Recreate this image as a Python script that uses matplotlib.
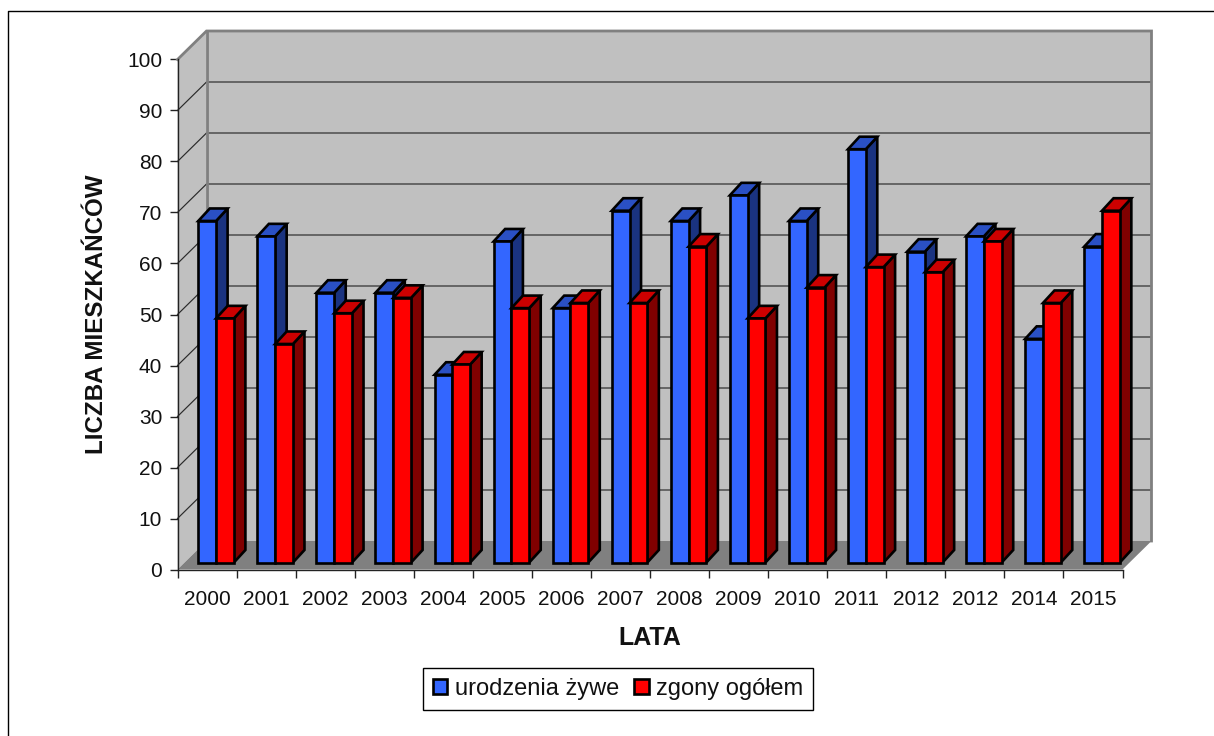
import matplotlib
matplotlib.use("Agg")
import matplotlib.pyplot as plt
from matplotlib.patches import Polygon, Patch
from matplotlib.lines import Line2D

years = ["2000", "2001", "2002", "2003", "2004", "2005", "2006", "2007",
         "2008", "2009", "2010", "2011", "2012", "2012", "2014", "2015"]
births = [68, 65, 54, 54, 38, 64, 51, 70, 68, 73, 68, 82, 62, 65, 45, 63]
deaths = [49, 44, 50, 53, 40, 51, 52, 52, 63, 49, 55, 59, 58, 64, 52, 70]
series_names = ["urodzenia żywe", "zgony ogółem"]
y_ticks = list(range(0, 101, 10))

plt.rcParams['font.family'] = ['Liberation Sans', 'DejaVu Sans']
W, H = 1214, 736
fig = plt.figure(figsize=(W / 100, H / 100), dpi=100, facecolor='white')

L, R, T, B = 177.5, 1122.5, 59.5, 569.5
ax = fig.add_axes([L / W, 1 - B / H, (R - L) / W, (B - T) / H])
ax.set_xlim(0, len(years))
ax.set_ylim(0, 100)
ax.patch.set_visible(False)

ux = (R - L) / len(years)   # px per category
uy = (B - T) / 100          # px per value unit
DX, DY = 29 / ux, 28.5 / uy           # wall depth
bx0, bw = 20.8 / ux, 17.8 / ux        # first bar offset, bar width
bdx, bdy = 11.5 / ux, 12.5 / uy       # bar depth
base = 7 / uy
top_k = 1.005

GREY = '#808080'
WALL = '#c0c0c0'
n = len(years)

def poly(pts, fc, ec, lw, z, join='miter'):
    ax.add_patch(Polygon(pts, closed=True, facecolor=fc, edgecolor=ec, linewidth=lw,
                         clip_on=False, zorder=z, joinstyle=join))

# walls and floor
poly([(DX, DY), (n + DX, DY), (n + DX, 100 + DY), (DX, 100 + DY)], WALL, 'none', 0, 1)
poly([(0, 0), (DX, DY), (DX, 100 + DY), (0, 100)], WALL, 'none', 0, 1)
poly([(0, 0), (DX, DY), (n + DX, DY), (n, 0)], GREY, 'none', 0, 1.5)

# gridlines
for v in y_ticks[1:-1]:
    ax.plot([0, DX, n + DX], [v, v + DY, v + DY], color='#2a2a2a', lw=0.85,
            clip_on=False, zorder=2)

# wall edges
ax.plot([0, DX, n + DX, n + DX], [100, 100 + DY, 100 + DY, DY], color=GREY, lw=2,
        clip_on=False, zorder=3, solid_joinstyle='miter')
ax.plot([DX, DX], [DY, 100 + DY], color=GREY, lw=2, clip_on=False, zorder=3)

# bars
EDGE = 1.9
def bar3d(x, v, front, top, side, z):
    t = v * top_k
    w = bw
    poly([(x + w, base), (x + w + bdx, base + bdy), (x + w + bdx, t + bdy), (x + w, t)],
         side, 'black', EDGE, z)
    poly([(x, t), (x + bdx, t + bdy), (x + w + bdx, t + bdy), (x + w, t)],
         top, 'black', EDGE, z + 0.01)
    poly([(x, base), (x + w, base), (x + w, t), (x, t)],
         front, 'black', EDGE, z + 0.02)

for i in range(n):
    bar3d(i + bx0, births[i], '#3366ff', '#2a50c4', '#1a3380', 4 + i * 0.2)
    bar3d(i + bx0 + bw, deaths[i], '#ff0000', '#cc0000', '#800000', 4.1 + i * 0.2)

# axes
for s in ('top', 'right'):
    ax.spines[s].set_visible(False)
for s in ('left', 'bottom'):
    ax.spines[s].set_linewidth(1)
    ax.spines[s].set_color('#222222')
    ax.spines[s].set_zorder(3)
ax.set_yticks(y_ticks)
ax.set_xticks(range(n + 1))
ax.set_xticks([i + 0.5 for i in range(n)], labels=years, minor=True)
ax.tick_params(axis='x', which='major', length=6, width=1, color='#222222', labelbottom=False)
ax.tick_params(axis='x', which='minor', length=0, labelsize=15, pad=15, labelcolor='#111111')
ax.tick_params(axis='y', length=6, width=1, color='#222222', labelsize=15, pad=5,
               labelcolor='#111111')
ax.set_xlabel("LATA", fontsize=18, fontweight='bold', labelpad=12, color='#111111')
ax.set_ylabel("LICZBA MIESZKAŃCÓW", fontsize=17.4, fontweight='bold', labelpad=14, color='#111111')

# legend
handles = [Patch(facecolor='#3366ff', edgecolor='black', linewidth=1.9),
           Patch(facecolor='#ff0000', edgecolor='black', linewidth=1.9)]
leg = fig.legend(handles, series_names, loc='center', bbox_to_anchor=(618 / W, 1 - 689 / H),
                 ncol=2, fontsize=17, frameon=True, fancybox=False, edgecolor='black',
                 framealpha=1, handlelength=0.62, handleheight=0.62, handletextpad=0.33,
                 columnspacing=0.62, borderpad=0.42, borderaxespad=0)
leg.get_frame().set_linewidth(1)
for t in leg.get_texts():
    t.set_color('#111111')

# outer chart frame
fig.add_artist(Line2D([7.5 / W, 7.5 / W, 1], [0, 1 - 11 / H, 1 - 11 / H], color='black', lw=1,
                      transform=fig.transFigure))

fig.savefig("out.png", dpi=100)
